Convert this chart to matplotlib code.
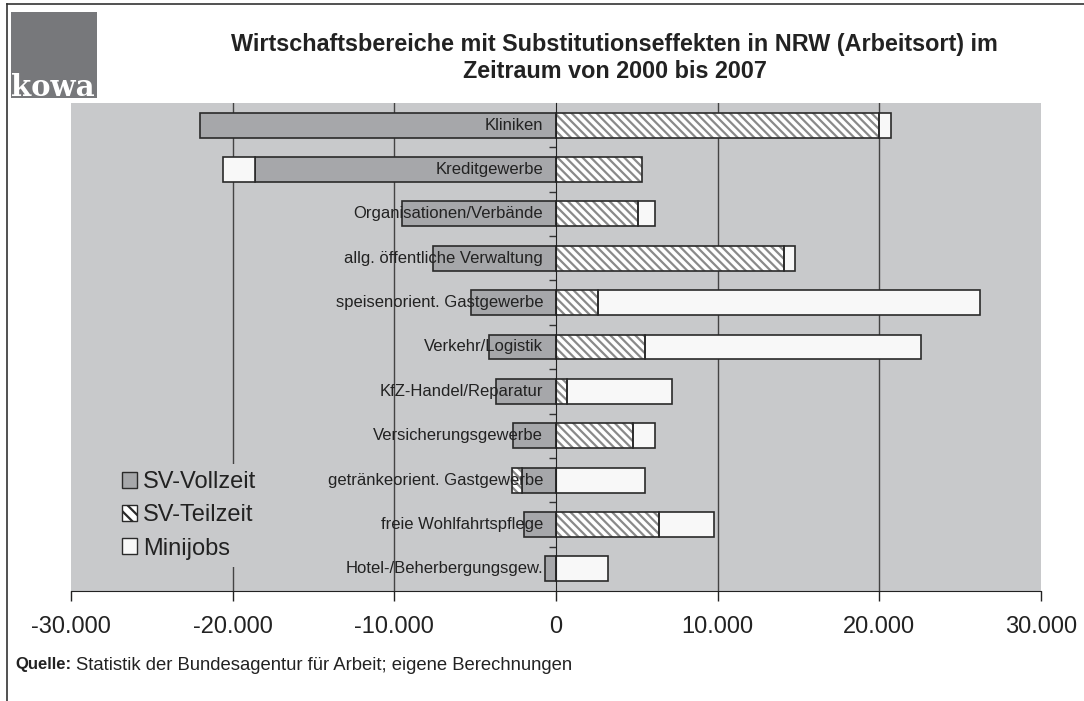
import matplotlib
matplotlib.use('Agg')
import matplotlib.pyplot as plt
import numpy as np
from matplotlib.patches import Patch, Rectangle
from matplotlib.lines import Line2D
from matplotlib.ticker import FuncFormatter

plt.rcParams['font.family'] = ['Liberation Sans', 'DejaVu Sans']
plt.rcParams['hatch.linewidth'] = 1.6

# data
branchen = ['Kliniken', 'Kreditgewerbe', 'Organisationen/Verbände',
            'allg. öffentliche Verwaltung', 'speisenorient. Gastgewerbe',
            'Verkehr/Logistik', 'KfZ-Handel/Reparatur', 'Versicherungsgewerbe',
            'getränkeorient. Gastgewerbe', 'freie Wohlfahrtspflege',
            'Hotel-/Beherbergungsgew.']
vollzeit = [-22000, -18600, -9500, -7600, -5250, -4150, -3700, -2650, -2080, -1980, -700]
teilzeit = [20000, 5350, 5100, 14100, 2600, 5500, 700, 4750, -620, 6350, 0]
minijobs = [700, -2000, 1050, 700, 23600, 17100, 6450, 1400, 5500, 3400, 3200]
serien = ['SV-Vollzeit', 'SV-Teilzeit', 'Minijobs']
xticks = [-30000, -20000, -10000, 0, 10000, 20000, 30000]

fig = plt.figure(figsize=(10.84, 7.01), dpi=100)
ax = fig.add_axes([71/1084, 1-591/701, 970/1084, 488/701])
ax.set_facecolor('#c8c9cb')

y = np.arange(len(branchen))[::-1]
pos = np.zeros(len(branchen))
neg = np.zeros(len(branchen))

def stack(vals):
    vals = np.array(vals, dtype=float)
    left = np.where(vals >= 0, pos, neg)
    pos[:] = pos + np.clip(vals, 0, None)
    neg[:] = neg + np.clip(vals, None, 0)
    return vals, left

h = 0.56
hatch = '\\\\\\\\'
v, l = stack(vollzeit)
ax.barh(y, v, left=l, height=h, color='#a6a7aa', edgecolor='#2a2a2a', linewidth=1.2, zorder=2)
v, l = stack(teilzeit)
ax.barh(y, v, left=l, height=h, color='white', edgecolor='#8a8a8a', linewidth=0, hatch=hatch, zorder=2)
ax.barh(y, v, left=l, height=h, fill=False, edgecolor='#2a2a2a', linewidth=1.2, zorder=2.1)
v, l = stack(minijobs)
ax.barh(y, v, left=l, height=h, color='#f8f8f8', edgecolor='#2a2a2a', linewidth=1.2, zorder=2)

for yy, name in zip(y, branchen):
    ax.text(-800, yy, name, ha='right', va='center', fontsize=12, color='#222222', zorder=4)

ax.set_xlim(-30000, 30000)
ax.set_ylim(-0.5, len(branchen) - 0.5)
ax.set_xticks(xticks)
ax.xaxis.set_major_formatter(FuncFormatter(lambda x, p: f'{int(x):,}'.replace(',', '.')))
ax.tick_params(axis='x', direction='out', length=7, width=1, pad=11, labelsize=17, colors='#222222')

ax.set_yticks(np.arange(len(branchen) - 1) + 0.5)
ax.set_yticklabels([])
ax.tick_params(axis='y', direction='out', length=5, width=1, color='#333333')

for s in ['top', 'right']:
    ax.spines[s].set_visible(False)
ax.spines['left'].set_position(('data', 0))
ax.spines['left'].set_color('#222222')
ax.spines['left'].set_zorder(3)
ax.spines['bottom'].set_color('#222222')

for xv in xticks[1:-1]:
    if xv != 0:
        ax.axvline(xv, color='#444444', linewidth=1, zorder=0.5)

handles = [Patch(facecolor='#a6a7aa', edgecolor='#2a2a2a'),
           Patch(facecolor='white', edgecolor='#2a2a2a', hatch='\\\\\\'),
           Patch(facecolor='#f8f8f8', edgecolor='#2a2a2a')]
leg = ax.legend(handles, serien, loc='lower left', bbox_to_anchor=(0.045, 0.05),
                fontsize=17, frameon=True, handlelength=0.65, handleheight=0.65,
                handletextpad=0.25, labelspacing=0.47, borderpad=0.3, borderaxespad=0)
leg.get_frame().set_facecolor('#c8c9cb')
leg.get_frame().set_edgecolor('none')
leg.get_frame().set_alpha(1)
leg.set_zorder(5)
for t in leg.get_texts():
    t.set_color('#222222')

fig.text(0.567, 1-45/701, 'Wirtschaftsbereiche mit Substitutionseffekten in NRW (Arbeitsort) im',
         ha='center', va='center', fontsize=16.8, fontweight='bold', color='#222222')
fig.text(0.567, 1-72/701, 'Zeitraum von 2000 bis 2007',
         ha='center', va='center', fontsize=16.8, fontweight='bold', color='#222222')

# logo
fig.patches.append(Rectangle((11/1084, 1-98/701), 86/1084, 86/701, transform=fig.transFigure,
                             facecolor='#77787b', edgecolor='none'))
fig.text(11/1084, 1-96/701, 'kowa', ha='left', va='baseline', fontsize=21,
         family='DejaVu Serif', fontweight='bold', color='white')

# source line: bold prefix, then normal text right after it
q = fig.text(15/1084, 1-665/701, 'Quelle:', ha='left', va='center', fontsize=12,
             fontweight='bold', color='#222222')
fig.canvas.draw()
bb = q.get_window_extent()
fig.text((bb.x1 + 5)/1084, 1-665/701, 'Statistik der Bundesagentur für Arbeit; eigene Berechnungen',
         ha='left', va='center', fontsize=13.3, color='#222222')

# frame lines (top and left, as in the cropped original)
fig.lines.append(Line2D([7/1084, 7/1084], [0, 1-4/701], transform=fig.transFigure,
                        color='#333333', linewidth=1.2))
fig.lines.append(Line2D([7/1084, 1], [1-4/701, 1-4/701], transform=fig.transFigure,
                        color='#333333', linewidth=1.2))

fig.savefig('out.png', dpi=100)
